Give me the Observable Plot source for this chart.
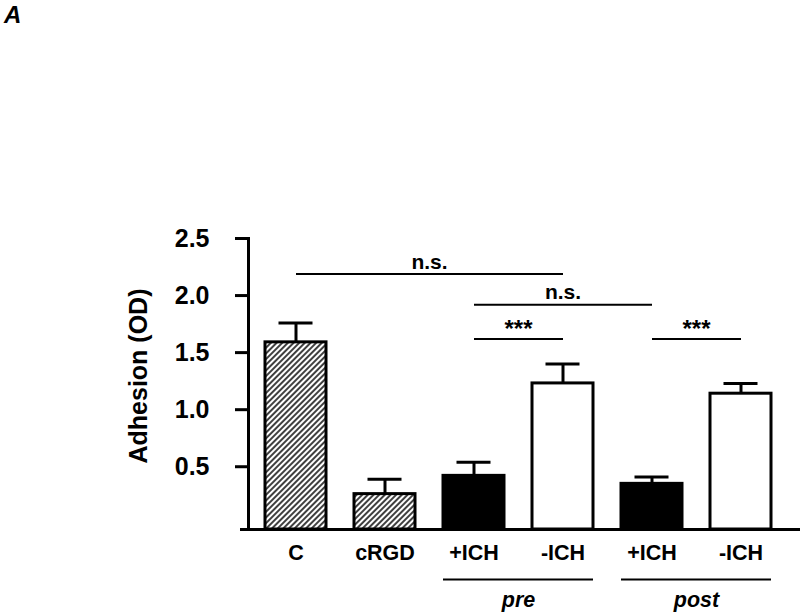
<!DOCTYPE html>
<html><head><meta charset="utf-8">
<script src="https://cdn.jsdelivr.net/npm/d3@7"></script>
<script src="https://cdn.jsdelivr.net/npm/@observablehq/plot@0.6"></script>
<style>
body{margin:0;background:#fff;}
#wrap{position:relative;width:800px;height:612px;overflow:hidden;}
#panel{position:absolute;left:3px;top:2px;padding:0 4px 2px 1px;font:italic bold 24px "Liberation Sans", Arial, sans-serif;line-height:26px;}
#chart{position:absolute;left:0;top:0;}
</style></head><body>
<div id="wrap"><div id="chart"></div><div id="panel">A</div></div>
<script>
// ---- data ----
const categories = ["C", "cRGD", "+ICH pre", "-ICH pre", "+ICH post", "-ICH post"];
const tickLabels = ["C", "cRGD", "+ICH", "-ICH", "+ICH", "-ICH"];
const means = [1.59, 0.26, 0.42, 1.23, 0.35, 1.14];
const sems = [0.17, 0.13, 0.12, 0.17, 0.06, 0.09];
const fillKinds = ["hatch", "hatch", "solid", "open", "solid", "open"];
const groupNames = ["pre", "post"];
const groupFrom = ["+ICH pre", "+ICH post"];
const groupTo = ["-ICH pre", "-ICH post"];
const sigFrom = ["C", "+ICH pre", "+ICH pre", "+ICH post"];
const sigTo = ["-ICH pre", "+ICH post", "-ICH pre", "-ICH post"];
const sigLevel = [2.19, 1.92, 1.62, 1.62];
const sigLabel = ["n.s.", "n.s.", "***", "***"];
const yTicks = [0.5, 1.0, 1.5, 2.0, 2.5];
const yFloor = -0.05;

// ---- layout ----
const W = 800, H = 612, mL = 248, mR = 0, mT = 238, mB = 83;
const padIn = 0.315, padOut = 0.258, align = 0.37;
const step = (W - mL - mR) / (categories.length - padIn + 2 * padOut);
const idx = k => categories.indexOf(k);

const rows = categories.map((c, i) => ({cat: c, mean: means[i], upper: means[i] + sems[i], kind: fillKinds[i]}));
const groups = groupNames.map((g, i) => ({name: g, from: groupFrom[i], to: groupTo[i]}));
const sigs = sigLabel.map((s, i) => ({label: s, from: sigFrom[i], to: sigTo[i], level: sigLevel[i]}));

const marks = [
  Plot.barY(rows, {x: "cat", y1: () => yFloor, y2: "mean", fill: "kind", stroke: "black", strokeWidth: 3}),
  Plot.ruleX(rows, {x: "cat", y1: "mean", y2: "upper", stroke: "black", strokeWidth: 3}),
  Plot.tickY(rows, {x: "cat", y: "upper", insetLeft: 13.5, insetRight: 13.5, stroke: "black", strokeWidth: 3}),
  Plot.frame({anchor: "left", strokeWidth: 3}),
  Plot.ruleY([yFloor], {insetLeft: -8, stroke: "black", strokeWidth: 3}),
  Plot.axisY({ticks: yTicks, tickSize: 13, tickPadding: 26, tickFormat: d3.format(".1f"), fontSize: 25, fontWeight: "bold", letterSpacing: 1.5, strokeWidth: 3, label: null}),
  Plot.axisX({tickSize: 0, tickPadding: 15, tickFormat: k => tickLabels[idx(k)], fontSize: 21.5, fontWeight: "bold", label: null}),
  Plot.text(["Adhesion (OD)"], {frameAnchor: "left", textAnchor: "middle", rotate: -90, dx: -110, dy: -8, fontSize: 25, fontWeight: "bold", letterSpacing: 2.5}),
  Plot.link(sigs, {x1: "from", x2: "to", y1: "level", y2: "level", stroke: "black", strokeWidth: 2}),
  ...sigs.map(s => Plot.text([s], {x: "from", y: "level", text: "label", dx: (idx(s.to) - idx(s.from)) * step / 2, dy: s.label === "***" ? -10 : -12, fontSize: s.label === "***" ? 24 : 21, fontWeight: "bold"})),
  Plot.ruleY(groups, {x1: "from", x2: "to", y: () => yFloor, dy: 50, stroke: "black", strokeWidth: 2}),
  Plot.text(groups, {x: "from", y: () => yFloor, text: "name", dx: step / 2, dy: 71, fontSize: 21.5, fontWeight: "bold", fontStyle: "italic"})
];

const fig = Plot.plot({
  width: W, height: H,
  marginLeft: mL, marginRight: mR, marginTop: mT, marginBottom: mB,
  style: {fontFamily: "'Liberation Sans', Arial, sans-serif", background: "white", color: "black"},
  x: {domain: categories, paddingInner: padIn, paddingOuter: padOut, align: align},
  y: {domain: [yFloor, 2.5]},
  color: {domain: ["hatch", "solid", "open"], range: ["url(#hatch)", "#000000", "#ffffff"]},
  marks
});

// hatch pattern definition
const defs = d3.select(fig).insert("defs", ":first-child");
const pat = defs.append("pattern")
  .attr("id", "hatch").attr("patternUnits", "userSpaceOnUse")
  .attr("width", 4).attr("height", 4)
  .attr("patternTransform", "rotate(45)");
pat.append("rect").attr("width", 4).attr("height", 4).attr("fill", "#fff");
pat.append("line").attr("x1", 2).attr("y1", 0).attr("x2", 2).attr("y2", 4)
  .attr("stroke", "#000").attr("stroke-width", 1.5);

document.getElementById("chart").appendChild(fig);
</script>
</body></html>
